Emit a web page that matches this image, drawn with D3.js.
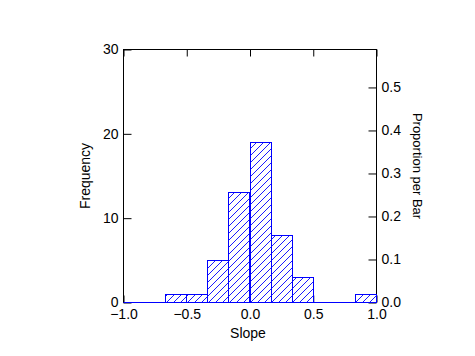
<!DOCTYPE html>
<html>
<head>
<meta charset="utf-8">
<script src="https://cdn.jsdelivr.net/npm/d3@7"></script>
<style>
html,body{margin:0;padding:0;background:#fff;}
svg{display:block;}
text{font-family:"Liberation Sans",Arial,Helvetica,sans-serif;}
</style>
</head>
<body>
<svg id="chart" width="475" height="356"></svg>
<script>
// Data
const binLower = [-1.0, -0.8333, -0.6667, -0.5, -0.3333, -0.1667, 0.0, 0.1667, 0.3333, 0.5, 0.6667, 0.8333];
const binWidth = 0.16667;
const counts = [0, 0, 1, 1, 5, 13, 19, 8, 3, 0, 0, 1];
const xTicks = [-1.0, -0.5, 0.0, 0.5, 1.0];
const yTicks = [0, 10, 20, 30];
const propTicks = [0.0, 0.1, 0.2, 0.3, 0.4, 0.5];
const xTitle = "Slope";
const yTitle = "Frequency";
const y2Title = "Proportion per Bar";

const total = d3.sum(counts);
const svg = d3.select("#chart");
const L = 123.5, R = 376.5, T = 49.5, B = 302.5;

const x = d3.scaleLinear().domain([-1, 1]).range([L, R]);
const y = d3.scaleLinear().domain([0, 30]).range([B, T]);
const y2 = d3.scaleLinear().domain([0, 30 / total]).range([B, T]);

// hatch pattern
const defs = svg.append("defs");
const pat = defs.append("pattern").attr("id", "hatch")
  .attr("patternUnits", "userSpaceOnUse").attr("width", 7).attr("height", 7);
pat.append("rect").attr("width", 7).attr("height", 7).attr("fill", "#fff");
pat.append("path").attr("d", "M0,7 L7,0 M-1,1 L1,-1 M6,8 L8,6")
  .attr("stroke", "#0000ff").attr("stroke-width", 0.9);

// frame
svg.append("rect").attr("x", L).attr("y", T).attr("width", R - L).attr("height", B - T)
  .attr("fill", "none").attr("stroke", "#000").attr("stroke-width", 1);

const fmt1 = d3.format(".1f");
function styleAxis(g) {
  g.select(".domain").remove();
  g.selectAll("line").attr("stroke", "#000").attr("stroke-width", 1);
  g.selectAll("text").attr("fill", "#000").style("font-size", "14px")
    .style("font-family", '"Liberation Sans",Arial,sans-serif');
}

// left axis
svg.append("g").attr("transform", `translate(${L},0)`)
  .call(d3.axisLeft(y).tickValues(yTicks).tickSize(-8).tickPadding(5).tickFormat(d3.format("d")))
  .call(styleAxis);
// right axis
svg.append("g").attr("transform", `translate(${R},0)`)
  .call(d3.axisRight(y2).tickValues(propTicks).tickSize(-8).tickPadding(5).tickFormat(fmt1))
  .call(styleAxis);
// top axis (ticks only)
svg.append("g").attr("transform", `translate(0,${T})`)
  .call(d3.axisTop(x).tickValues(xTicks).tickSize(-7).tickFormat(""))
  .call(styleAxis);
// bottom axis
svg.append("g").attr("transform", `translate(0,${B})`)
  .call(d3.axisBottom(x).tickValues(xTicks).tickSize(-7).tickPadding(7).tickFormat(fmt1))
  .call(styleAxis);

// bars
svg.append("g").selectAll("rect")
  .data(binLower.map((b, i) => ({ x0: b, x1: b + binWidth, c: counts[i] })).filter(d => d.c > 0))
  .join("rect")
  .attr("x", d => Math.round(x(d.x0) - 0.5) + 0.5)
  .attr("width", d => Math.round(x(d.x1) - 0.5) - Math.round(x(d.x0) - 0.5))
  .attr("y", d => Math.round(y(d.c) - 0.5) + 0.5)
  .attr("height", d => B - (Math.round(y(d.c) - 0.5) + 0.5))
  .attr("fill", "url(#hatch)")
  .attr("stroke", "#0000ff").attr("stroke-width", 1);

// baseline (blue)
svg.append("line").attr("x1", x(-1)).attr("x2", x(1)).attr("y1", B).attr("y2", B)
  .attr("stroke", "#0000ff").attr("stroke-width", 1);

// titles
svg.append("text").attr("x", x(0) - 2).attr("y", 338).attr("text-anchor", "middle")
  .style("font-size", "14px").text(xTitle);
svg.append("text").attr("transform", `translate(90,${(T + B) / 2}) rotate(-90)`)
  .attr("text-anchor", "middle").style("font-size", "14px").text(yTitle);
svg.append("text").attr("transform", `translate(413,166) rotate(90)`)
  .attr("text-anchor", "middle").style("font-size", "13px").text(y2Title);
</script>
</body>
</html>
